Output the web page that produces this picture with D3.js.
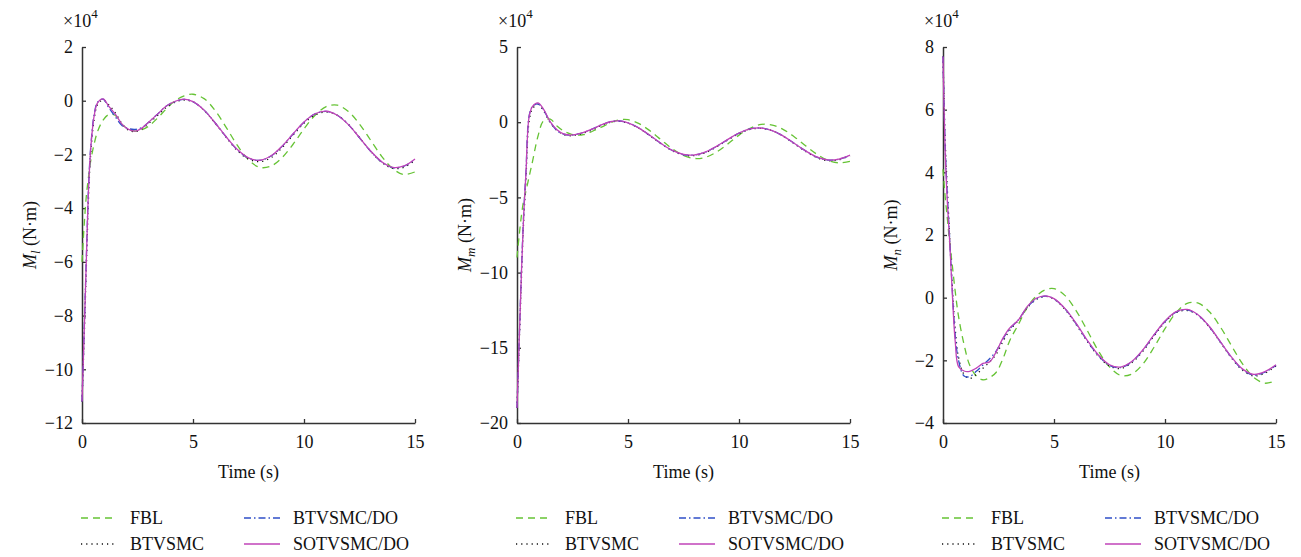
<!DOCTYPE html>
<html>
<head>
<meta charset="utf-8">
<script src="https://cdn.jsdelivr.net/npm/d3@7"></script>
</head>
<body style="margin:0;background:#fff">
<svg id="chart" width="1301" height="557"></svg>
<script>
// time samples (s), shared by all three panels
let time = [0, 0.1, 0.2, 0.3, 0.4, 0.55, 0.7, 0.95, 1.2, 1.5, 1.8, 2.1, 2.4, 2.7, 3.0, 3.4, 3.8, 4.2, 4.6, 5.0,
  5.5, 6.0, 6.5, 7.0, 7.5, 8.0, 8.5, 9.0, 9.5, 10.0, 10.5, 11.0, 11.5, 12.0, 12.5, 13.0, 13.5, 14.0, 14.5, 15.0];

let seriesNames = ['FBL', 'BTVSMC', 'BTVSMC/DO', 'SOTVSMC/DO'];

// M_l (x10^4 N.m)
let mlFBL = [-6.0, -4.6, -3.5, -2.8, -2.2, -1.6, -1.15, -0.72, -0.52, -0.55, -0.88, -1.06, -1.13, -1.08, -0.95, -0.65, -0.3, 0.0, 0.18, 0.24,
  0.077, -0.37, -1.0, -1.665, -2.2, -2.48, -2.44, -2.13, -1.63, -1.05, -0.54, -0.217, -0.165, -0.40, -0.87, -1.47, -2.07, -2.53, -2.75, -2.65];
let mlBT = [-11.2, -8.8, -6.1, -3.5, -1.9, -0.7, -0.15, 0.03, -0.15, -0.45, -0.85, -1.1, -1.15, -1.05, -0.85, -0.55, -0.25, -0.05, 0.02, -0.04,
  -0.36, -0.84, -1.37, -1.86, -2.17, -2.27, -2.13, -1.76, -1.29, -0.84, -0.53, -0.42, -0.54, -0.88, -1.37, -1.88, -2.3, -2.52, -2.48, -2.22];
let mlBTDO = [-11.2, -8.5, -5.7, -3.1, -1.65, -0.5, -0.06, 0.06, -0.25, -0.6, -0.92, -1.04, -1.07, -1.0, -0.8, -0.5, -0.2, -0.03, 0.05, -0.04,
  -0.35, -0.83, -1.35, -1.83, -2.14, -2.22, -2.07, -1.71, -1.25, -0.8, -0.49, -0.4, -0.54, -0.89, -1.38, -1.88, -2.28, -2.49, -2.44, -2.18];
let mlSOT = [-11.2, -8.6, -5.8, -3.2, -1.7, -0.55, -0.08, 0.07, -0.2, -0.5, -0.87, -1.07, -1.13, -1.02, -0.8, -0.5, -0.2, -0.02, 0.06, -0.035,
  -0.35, -0.83, -1.35, -1.82, -2.13, -2.217, -2.06, -1.70, -1.24, -0.79, -0.485, -0.392, -0.54, -0.89, -1.375, -1.87, -2.27, -2.48, -2.43, -2.17];

// M_m (x10^4 N.m)
let mmFBL = [-9.0, -7.5, -6.2, -5.2, -4.6, -3.6, -2.6, -0.9, 0.1, 0.2, -0.25, -0.58, -0.78, -0.86, -0.83, -0.6, -0.33, -0.05, 0.15, 0.17,
  -0.1, -0.58, -1.18, -1.77, -2.21, -2.41, -2.33, -1.97, -1.44, -0.86, -0.4, -0.15, -0.19, -0.49, -0.98, -1.57, -2.12, -2.53, -2.7, -2.6];
let mmBT = [-19.0, -14.8, -10.4, -6.6, -3.9, 0.1, 0.9, 1.18, 0.75, -0.05, -0.55, -0.82, -0.9, -0.84, -0.72, -0.5, -0.22, 0.0, 0.06, -0.06,
  -0.41, -0.92, -1.45, -1.9, -2.18, -2.22, -2.02, -1.63, -1.18, -0.76, -0.48, -0.41, -0.57, -0.94, -1.44, -1.94, -2.35, -2.56, -2.5, -2.22];
let mmBTDO = [-19.0, -14.4, -9.9, -6.1, -3.4, 0.45, 1.05, 1.22, 0.8, 0.0, -0.55, -0.8, -0.86, -0.8, -0.68, -0.45, -0.18, 0.02, 0.08, -0.04,
  -0.39, -0.9, -1.43, -1.88, -2.15, -2.18, -1.98, -1.6, -1.15, -0.73, -0.45, -0.39, -0.56, -0.93, -1.42, -1.91, -2.32, -2.52, -2.46, -2.2];
let mmSOT = [-19.0, -14.5, -10.0, -6.2, -3.5, 0.4, 1.05, 1.28, 0.85, 0.02, -0.5, -0.78, -0.86, -0.8, -0.68, -0.45, -0.18, 0.03, 0.09, -0.04,
  -0.39, -0.89, -1.42, -1.875, -2.14, -2.17, -1.97, -1.59, -1.14, -0.72, -0.447, -0.385, -0.56, -0.93, -1.42, -1.91, -2.31, -2.51, -2.45, -2.19];

// M_n (x10^4 N.m)
let mnFBL = [4.1, 3.2, 2.5, 1.75, 1.15, 0.2, -0.6, -1.5, -2.15, -2.5, -2.62, -2.55, -2.38, -1.95, -1.38, -0.85, -0.3, 0.05, 0.25, 0.29,
  0.065, -0.42, -1.05, -1.70, -2.21, -2.48, -2.44, -2.12, -1.59, -0.99, -0.48, -0.18, -0.175, -0.45, -0.94, -1.54, -2.12, -2.55, -2.73, -2.65];
let mnBT = [7.7, 5.0, 3.4, 2.0, 0.6, -1.0, -1.9, -2.45, -2.58, -2.45, -2.25, -2.05, -1.8, -1.4, -1.05, -0.72, -0.32, -0.06, 0.04, -0.05,
  -0.38, -0.86, -1.4, -1.87, -2.18, -2.26, -2.08, -1.71, -1.23, -0.78, -0.48, -0.41, -0.57, -0.94, -1.43, -1.93, -2.32, -2.5, -2.41, -2.18];
let mnBTDO = [7.7, 4.8, 3.2, 1.9, 0.5, -1.2, -2.0, -2.5, -2.52, -2.35, -2.15, -1.95, -1.7, -1.32, -1.0, -0.7, -0.3, -0.05, 0.05, -0.04,
  -0.36, -0.84, -1.38, -1.85, -2.16, -2.23, -2.05, -1.68, -1.2, -0.76, -0.46, -0.39, -0.56, -0.93, -1.42, -1.91, -2.3, -2.47, -2.38, -2.16];
let mnSOT = [7.7, 4.6, 3.0, 1.8, 0.4, -1.4, -2.2, -2.34, -2.35, -2.25, -2.1, -2.05, -1.72, -1.29, -0.97, -0.71, -0.28, -0.02, 0.06, -0.03,
  -0.35, -0.82, -1.36, -1.83, -2.14, -2.215, -2.04, -1.67, -1.19, -0.745, -0.447, -0.375, -0.55, -0.92, -1.41, -1.9, -2.28, -2.45, -2.36, -2.14];

let xTicks = [0, 5, 10, 15];
let mlTicks = [2, 0, -2, -4, -6, -8, -10, -12];
let mmTicks = [5, 0, -5, -10, -15, -20];
let mnTicks = [8, 6, 4, 2, 0, -2, -4];

// line styles for FBL, BTVSMC, BTVSMC/DO, SOTVSMC/DO
let styles = [
  { color: '#66c335', dash: '7,5' },
  { color: '#111111', dash: '1.2,4' },
  { color: '#2f4fc8', dash: '7,3,1.5,3' },
  { color: '#c043b8', dash: null }
];

let serif = '"Liberation Serif", "Times New Roman", Times, serif';
let fs = 18;

let svg = d3.select('#chart');

function styleAxis(sel) {
  sel.attr('font-family', serif).attr('font-size', fs);
  sel.select('.domain').attr('stroke', '#333').attr('stroke-width', 1.5);
  sel.selectAll('.tick line').attr('stroke', '#333').attr('stroke-width', 1.3);
  sel.selectAll('.tick text').attr('fill', '#111');
}

function makeChart(x0, sub, yDomain, yTicks, data) {
  let x1 = x0 + 333;
  let yTop = 47, yBot = 423;

  let xScale = d3.scaleLinear().domain([0, 15]).range([x0, x1]);
  let yScale = d3.scaleLinear().domain(yDomain).range([yBot, yTop]);

  let g = svg.append('g')
    .attr('font-family', serif)
    .attr('font-size', fs)
    .attr('fill', '#111');

  // AXES (ticks point inward)
  g.append('g')
    .attr('transform', `translate(${x0},0)`)
    .call(d3.axisLeft(yScale).tickValues(yTicks).tickSizeInner(-4).tickSizeOuter(0).tickPadding(9))
    .call(styleAxis);

  g.append('g')
    .attr('transform', `translate(0,${yBot})`)
    .call(d3.axisBottom(xScale).tickValues(xTicks).tickSizeInner(-4).tickSizeOuter(0).tickPadding(12))
    .call(styleAxis);

  let line = d3.line()
    .x((d, i) => xScale(time[i]))
    .y((d) => yScale(d))
    .curve(d3.curveCatmullRom.alpha(0.5));

  data.forEach((values, k) => {
    g.append('path')
      .attr('d', line(values))
      .attr('fill', 'none')
      .attr('stroke', styles[k].color)
      .attr('stroke-width', 1.3)
      .attr('stroke-dasharray', styles[k].dash);
  });

  // x10^4 multiplier
  let mult = g.append('text')
    .attr('x', x0 - 19)
    .attr('y', 27);
  mult.append('tspan').text('×10');
  mult.append('tspan').attr('font-size', 13).attr('dy', -9).text('4');

  // y label
  let ylab = g.append('text')
    .attr('transform', `translate(${x0 - 46},235) rotate(-90)`)
    .attr('text-anchor', 'middle');
  ylab.append('tspan').attr('font-style', 'italic').text('M');
  ylab.append('tspan').attr('font-style', 'italic').attr('font-size', 13).attr('dy', 4).text(sub);
  ylab.append('tspan').attr('dy', -4).text(' (N·m)');

  // x label
  g.append('text')
    .attr('x', (x0 + x1) / 2)
    .attr('y', 478)
    .attr('text-anchor', 'middle')
    .text('Time (s)');

  // LEGEND (2 x 2)
  let spots = [
    { lx: x0 - 1, ly: 518 },
    { lx: x0 - 1, ly: 544 },
    { lx: x0 + 162, ly: 518 },
    { lx: x0 + 162, ly: 544 }
  ];
  seriesNames.forEach((name, k) => {
    let s = spots[k];
    g.append('line')
      .attr('x1', s.lx).attr('x2', s.lx + 36)
      .attr('y1', s.ly).attr('y2', s.ly)
      .attr('stroke', styles[k].color)
      .attr('stroke-width', 1.3)
      .attr('stroke-dasharray', styles[k].dash);
    g.append('text')
      .attr('x', s.lx + 49)
      .attr('y', s.ly + 6)
      .text(name);
  });
}

makeChart(82, 'l', [-12, 2], mlTicks, [mlFBL, mlBT, mlBTDO, mlSOT]);
makeChart(517, 'm', [-20, 5], mmTicks, [mmFBL, mmBT, mmBTDO, mmSOT]);
makeChart(943, 'n', [-4, 8], mnTicks, [mnFBL, mnBT, mnBTDO, mnSOT]);
</script>
</body>
</html>
